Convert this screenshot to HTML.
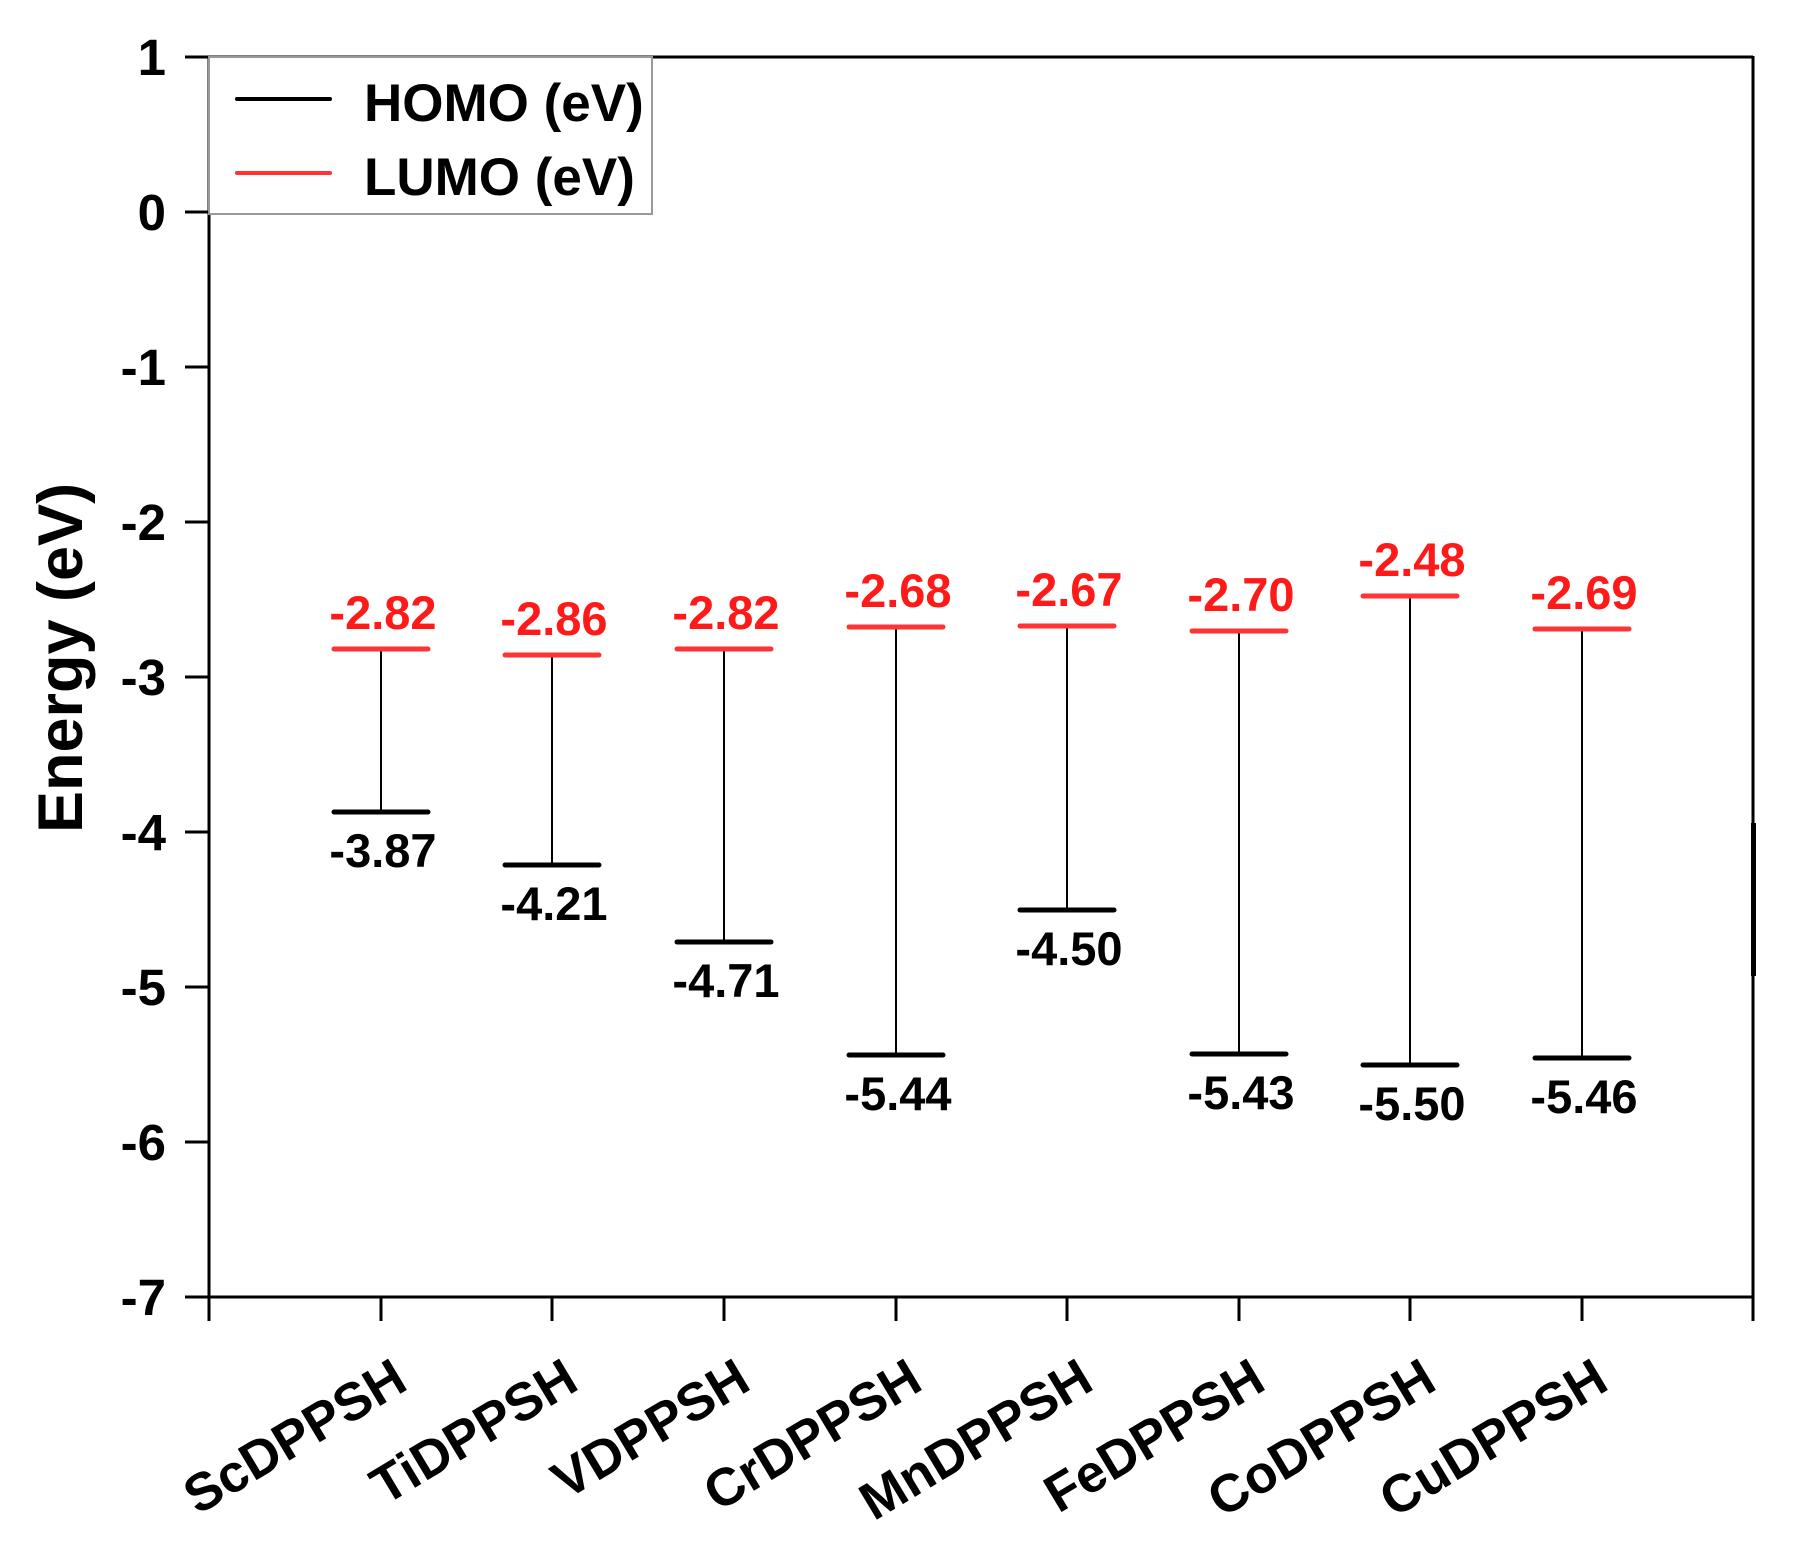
<!DOCTYPE html>
<html><head><meta charset="utf-8"><style>
html,body{margin:0;padding:0;background:#fff;}
svg{display:block;}
text{font-family:"Liberation Sans",Arial,sans-serif;font-weight:bold;}
</style></head><body>
<svg width="1800" height="1553" viewBox="0 0 1800 1553" xmlns="http://www.w3.org/2000/svg">
<g stroke="#000" stroke-width="3" fill="none">
<line x1="209" y1="56" x2="209" y2="1321"/>
<line x1="185" y1="57" x2="1753" y2="57"/>
<line x1="1753" y1="56" x2="1753" y2="1321"/>
<line x1="185" y1="1297" x2="1753" y2="1297"/>
<line x1="185" y1="212" x2="209" y2="212"/>
<line x1="185" y1="367" x2="209" y2="367"/>
<line x1="185" y1="522" x2="209" y2="522"/>
<line x1="185" y1="677" x2="209" y2="677"/>
<line x1="185" y1="832" x2="209" y2="832"/>
<line x1="185" y1="987" x2="209" y2="987"/>
<line x1="185" y1="1142" x2="209" y2="1142"/>
<line x1="381" y1="1297" x2="381" y2="1321"/>
<line x1="552" y1="1297" x2="552" y2="1321"/>
<line x1="724" y1="1297" x2="724" y2="1321"/>
<line x1="896" y1="1297" x2="896" y2="1321"/>
<line x1="1067" y1="1297" x2="1067" y2="1321"/>
<line x1="1239" y1="1297" x2="1239" y2="1321"/>
<line x1="1410" y1="1297" x2="1410" y2="1321"/>
<line x1="1582" y1="1297" x2="1582" y2="1321"/>
</g>
<rect x="1751" y="823" width="5" height="153" fill="#000"/>
<g font-size="51" text-anchor="end" fill="#000">
<text x="166" y="75">1</text>
<text x="166" y="230">0</text>
<text x="166" y="385">-1</text>
<text x="166" y="540">-2</text>
<text x="166" y="695">-3</text>
<text x="166" y="850">-4</text>
<text x="166" y="1005">-5</text>
<text x="166" y="1160">-6</text>
<text x="166" y="1315">-7</text>
</g>
<text transform="translate(82,658) rotate(-90)" font-size="63" text-anchor="middle">Energy (eV)</text>
<rect x="209" y="57" width="443" height="157" fill="#fff" stroke="#999" stroke-width="2"/>
<line x1="237" y1="99" x2="330" y2="99" stroke="#000" stroke-width="4" stroke-linecap="round"/>
<line x1="237" y1="173" x2="330" y2="173" stroke="#ff3333" stroke-width="4" stroke-linecap="round"/>
<text x="364" y="121" font-size="53">HOMO (eV)</text>
<text x="364" y="195" font-size="53">LUMO (eV)</text>
<g stroke-width="2" stroke="#000">
<line x1="381" y1="649" x2="381" y2="812"/>
<line x1="552" y1="655" x2="552" y2="865"/>
<line x1="724" y1="649" x2="724" y2="942"/>
<line x1="896" y1="627" x2="896" y2="1055"/>
<line x1="1067" y1="626" x2="1067" y2="910"/>
<line x1="1239" y1="631" x2="1239" y2="1054"/>
<line x1="1410" y1="596" x2="1410" y2="1065"/>
<line x1="1582" y1="629" x2="1582" y2="1058"/>
</g>
<g stroke="#ff3333" stroke-width="5" stroke-linecap="round">
<line x1="334" y1="649" x2="428" y2="649"/>
<line x1="505" y1="655" x2="599" y2="655"/>
<line x1="677" y1="649" x2="771" y2="649"/>
<line x1="849" y1="627" x2="943" y2="627"/>
<line x1="1020" y1="626" x2="1114" y2="626"/>
<line x1="1192" y1="631" x2="1286" y2="631"/>
<line x1="1363" y1="596" x2="1457" y2="596"/>
<line x1="1535" y1="629" x2="1629" y2="629"/>
</g>
<g stroke="#000" stroke-width="5" stroke-linecap="round">
<line x1="334" y1="812" x2="428" y2="812"/>
<line x1="505" y1="865" x2="599" y2="865"/>
<line x1="677" y1="942" x2="771" y2="942"/>
<line x1="849" y1="1055" x2="943" y2="1055"/>
<line x1="1020" y1="910" x2="1114" y2="910"/>
<line x1="1192" y1="1054" x2="1286" y2="1054"/>
<line x1="1363" y1="1065" x2="1457" y2="1065"/>
<line x1="1535" y1="1058" x2="1629" y2="1058"/>
</g>
<g font-size="47" text-anchor="middle" fill="#ff1a1a">
<text x="383" y="629">-2.82</text>
<text x="554" y="635">-2.86</text>
<text x="726" y="629">-2.82</text>
<text x="898" y="607">-2.68</text>
<text x="1069" y="606">-2.67</text>
<text x="1241" y="611">-2.70</text>
<text x="1412" y="576">-2.48</text>
<text x="1584" y="609">-2.69</text>
</g>
<g font-size="47" text-anchor="middle" fill="#000">
<text x="383" y="867">-3.87</text>
<text x="554" y="920">-4.21</text>
<text x="726" y="997">-4.71</text>
<text x="898" y="1110">-5.44</text>
<text x="1069" y="965">-4.50</text>
<text x="1241" y="1109">-5.43</text>
<text x="1412" y="1120">-5.50</text>
<text x="1584" y="1113">-5.46</text>
</g>
<g font-size="53" text-anchor="end" fill="#000">
<text transform="translate(410,1388) rotate(-31)">ScDPPSH</text>
<text transform="translate(581,1388) rotate(-31)">TiDPPSH</text>
<text transform="translate(753,1388) rotate(-31)">VDPPSH</text>
<text transform="translate(925,1388) rotate(-31)">CrDPPSH</text>
<text transform="translate(1096,1388) rotate(-31)">MnDPPSH</text>
<text transform="translate(1268,1388) rotate(-31)">FeDPPSH</text>
<text transform="translate(1439,1388) rotate(-31)">CoDPPSH</text>
<text transform="translate(1611,1388) rotate(-31)">CuDPPSH</text>
</g>
</svg>
</body></html>
